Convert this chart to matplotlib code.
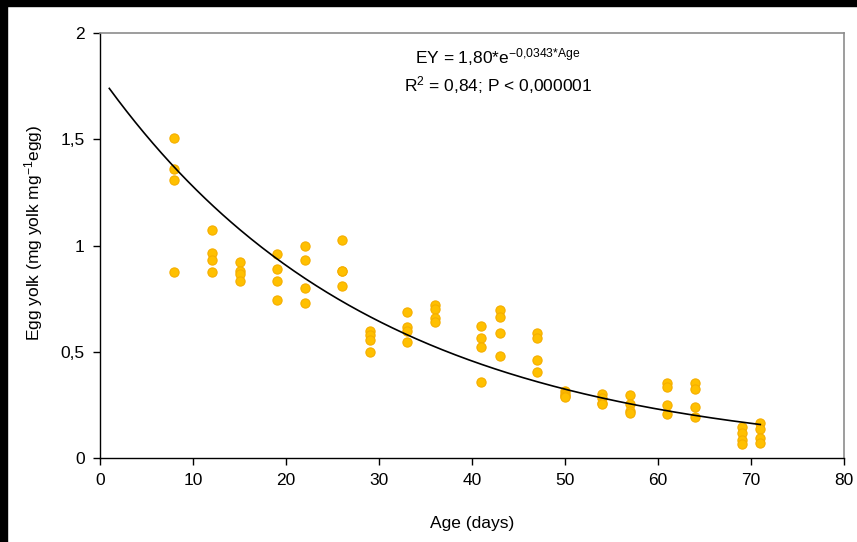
import numpy as np
import matplotlib
matplotlib.use("Agg")
import matplotlib.pyplot as plt
from matplotlib.ticker import FuncFormatter

plt.rcParams["font.family"] = ["Liberation Sans", "DejaVu Sans"]
plt.rcParams["mathtext.default"] = "regular"

# egg yolk per egg, grouped by age (days)
ages = [8, 12, 15, 19, 22, 26, 29, 33, 36, 41, 43, 47, 50, 54, 57, 61, 64, 69, 71]
yolk = [
    [1.506, 1.36, 1.31, 0.874],
    [1.074, 0.963, 0.93, 0.874],
    [0.924, 0.878, 0.867, 0.831],
    [0.96, 0.891, 0.835, 0.744],
    [0.999, 0.933, 0.802, 0.728],
    [1.027, 0.882, 0.878, 0.811],
    [0.599, 0.579, 0.557, 0.499],
    [0.689, 0.615, 0.598, 0.544],
    [0.72, 0.701, 0.659, 0.641],
    [0.623, 0.563, 0.521, 0.358],
    [0.698, 0.665, 0.59, 0.478],
    [0.587, 0.563, 0.461, 0.403],
    [0.315, 0.301, 0.292, 0.286],
    [0.301, 0.283, 0.26, 0.252],
    [0.295, 0.253, 0.223, 0.21],
    [0.351, 0.333, 0.249, 0.207],
    [0.351, 0.323, 0.241, 0.194],
    [0.144, 0.116, 0.085, 0.066],
    [0.166, 0.138, 0.093, 0.069],
]

# fitted model EY = a * exp(b * Age)
fit_a = 1.80
fit_b = -0.0343
fit_start, fit_end = 1, 71

x_pts = []
y_pts = []
for age, vals in zip(ages, yolk):
    for v in vals:
        x_pts.append(age)
        y_pts.append(v)

fig = plt.figure(figsize=(8.57, 5.42), dpi=100)
fig.patch.set_facecolor("white")

# dark strips along the top and left edges
fig.patches.append(plt.Rectangle((0, 1 - 6 / 542), 1, 6 / 542, transform=fig.transFigure,
                                 color="black", zorder=0))
fig.patches.append(plt.Rectangle((0, 0), 7 / 857, 1, transform=fig.transFigure,
                                 color="black", zorder=0))

ax = fig.add_axes([100 / 857, 1 - 458 / 542, 744 / 857, 425 / 542])

ax.scatter(x_pts, y_pts, s=44, facecolor="#FFC000", edgecolor="#F5AE00",
           linewidth=0.8, zorder=2)

xs = np.linspace(fit_start, fit_end, 300)
ax.plot(xs, fit_a * np.exp(fit_b * xs), color="black", linewidth=1.2, zorder=3)

ax.set_xlim(0, 80)
ax.set_ylim(0, 2)
ax.set_xticks(range(0, 81, 10))
ax.set_yticks([0, 0.5, 1, 1.5, 2])
ax.yaxis.set_major_formatter(FuncFormatter(lambda v, p: f"{v:g}".replace(".", ",")))

for side in ["top", "right"]:
    ax.spines[side].set_color("#8c8c8c")
    ax.spines[side].set_linewidth(1.2)
for side in ["left", "bottom"]:
    ax.spines[side].set_color("black")
    ax.spines[side].set_linewidth(1.0)

ax.tick_params(direction="out", length=5, width=1.0, labelsize=12.5, pad=6)
ax.set_xlabel("Age (days)", fontsize=12.5, labelpad=20)
ax.set_ylabel("Egg yolk (mg yolk mg$^{-1}$egg)", fontsize=12.5)
ax.yaxis.set_label_coords(-0.074, 0.529)

ax.text(0.535, 0.943, "EY = 1,80*e$^{-0{,}0343{*}Age}$", transform=ax.transAxes,
        ha="center", va="center", fontsize=12.5)
ax.text(0.535, 0.878, "R$^{2}$ = 0,84; P < 0,000001", transform=ax.transAxes,
        ha="center", va="center", fontsize=12.5)

fig.savefig("out.png", dpi=100)
